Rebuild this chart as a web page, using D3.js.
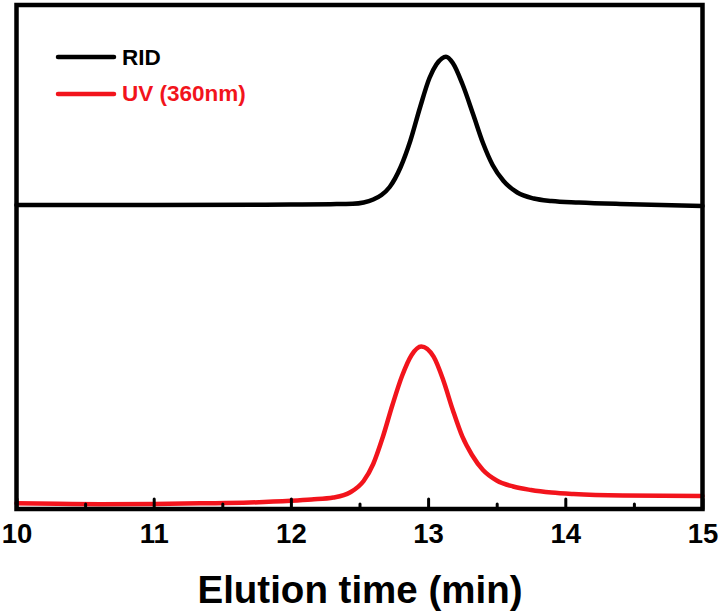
<!DOCTYPE html>
<html>
<head>
<meta charset="utf-8">
<script src="https://cdn.jsdelivr.net/npm/d3@7"></script>
<style>
  html, body { margin: 0; padding: 0; background: #fff; }
  svg { display: block; }
  text { font-family: "Liberation Sans", Arial, sans-serif; font-weight: bold; }
</style>
</head>
<body>
<div id="chart"></div>
<script>
// ---- data ----
const ridTime   = [10.0, 11.0, 12.0, 12.29, 12.45, 12.53, 12.60, 12.66, 12.72, 12.80, 12.87, 12.94, 13.01, 13.06, 13.10, 13.13, 13.18, 13.25, 13.33, 13.40, 13.47, 13.55, 13.65, 13.77, 13.90, 14.10, 14.40, 15.0];
const ridSignal = [60.24, 60.24, 60.32, 60.40, 60.48, 60.74, 61.33, 62.23, 63.82, 67.79, 72.96, 79.52, 85.49, 88.17, 89.36, 89.72, 88.47, 84.29, 78.13, 72.56, 68.19, 65.01, 62.72, 61.53, 61.03, 60.74, 60.44, 60.04];

const uvTime   = [10.0, 10.3, 10.61, 11.0, 11.34, 11.7, 12.0, 12.15, 12.31, 12.43, 12.53, 12.60, 12.67, 12.74, 12.81, 12.88, 12.95, 13.04, 13.11, 13.18, 13.25, 13.32, 13.40, 13.50, 13.62, 13.75, 13.90, 14.06, 14.42, 15.0];
const uvSignal = [0.93, 0.83, 0.76, 0.80, 0.93, 1.09, 1.43, 1.69, 2.09, 3.08, 5.37, 8.75, 14.12, 20.48, 26.24, 30.42, 32.11, 30.08, 25.45, 19.48, 14.17, 10.54, 7.55, 5.47, 4.27, 3.58, 3.08, 2.78, 2.49, 2.39];

const xMajorTicks = [10, 11, 12, 13, 14, 15];
const xMinorTicks = [10.5, 11.5, 12.5, 13.5, 14.5];

const seriesNames  = ["RID", "UV (360nm)"];
const seriesColors = ["#000000", "#f2141c"];
const xTitle = "Elution time (min)";

// ---- layout ----
const W = 722, H = 616;
const plotL = 16.5, plotR = 702.5, plotT = 5, plotB = 509;

const svg = d3.select("#chart").append("svg").attr("width", W).attr("height", H);

const x = d3.scaleLinear().domain([10, 15]).range([plotL, plotR]);
const y = d3.scaleLinear().domain([0, 100]).range([508, plotT]);

const line = d3.line().x(d => x(d[0])).y(d => y(d[1])).curve(d3.curveMonotoneX);

const series = [
  d3.zip(ridTime, ridSignal),
  d3.zip(uvTime, uvSignal)
];

// curves
series.forEach((s, i) => {
  svg.append("path")
    .datum(s)
    .attr("d", line)
    .attr("fill", "none")
    .attr("stroke", seriesColors[i])
    .attr("stroke-width", 4.5)
    .attr("stroke-linejoin", "round")
    .attr("stroke-linecap", "round");
});

// minor ticks
const minorAxis = d3.axisBottom(x).tickValues(xMinorTicks).tickSize(-5).tickFormat("");
const gMinor = svg.append("g").attr("transform", `translate(0,${plotB})`).call(minorAxis);
gMinor.select(".domain").remove();
gMinor.selectAll(".tick line").attr("stroke", "#000").attr("stroke-width", 3).attr("stroke-linecap", "round");

// major ticks + labels
const majorAxis = d3.axisBottom(x).tickValues(xMajorTicks).tickSize(-10).tickFormat(d3.format("d"));
const gMajor = svg.append("g").attr("transform", `translate(0,${plotB})`).call(majorAxis);
gMajor.select(".domain").remove();
gMajor.selectAll(".tick line").attr("stroke", "#000").attr("stroke-width", 3).attr("stroke-linecap", "round");
gMajor.selectAll(".tick text")
  .attr("y", 34).attr("dy", null)
  .attr("fill", "#000")
  .style("font-size", "27.5px")
  .style("font-family", "'Liberation Sans', Arial, sans-serif")
  .style("font-weight", "bold");

// frame
svg.append("rect")
  .attr("x", plotL).attr("y", plotT)
  .attr("width", plotR - plotL).attr("height", plotB - plotT)
  .attr("fill", "none").attr("stroke", "#000").attr("stroke-width", 4.5);

// x title
svg.append("text")
  .attr("x", 360).attr("y", 603)
  .attr("text-anchor", "middle")
  .style("font-size", "38.5px")
  .attr("fill", "#000")
  .text(xTitle);

// legend
const legY = [57, 94];
const legTextY = [65, 101];
seriesNames.forEach((name, i) => {
  svg.append("line")
    .attr("x1", 58).attr("x2", 114)
    .attr("y1", legY[i]).attr("y2", legY[i])
    .attr("stroke", seriesColors[i]).attr("stroke-width", 4.5)
    .attr("stroke-linecap", "round");
  svg.append("text")
    .attr("x", 122).attr("y", legTextY[i])
    .attr("fill", seriesColors[i])
    .style("font-size", "22.5px")
    .text(name);
});
</script>
</body>
</html>
